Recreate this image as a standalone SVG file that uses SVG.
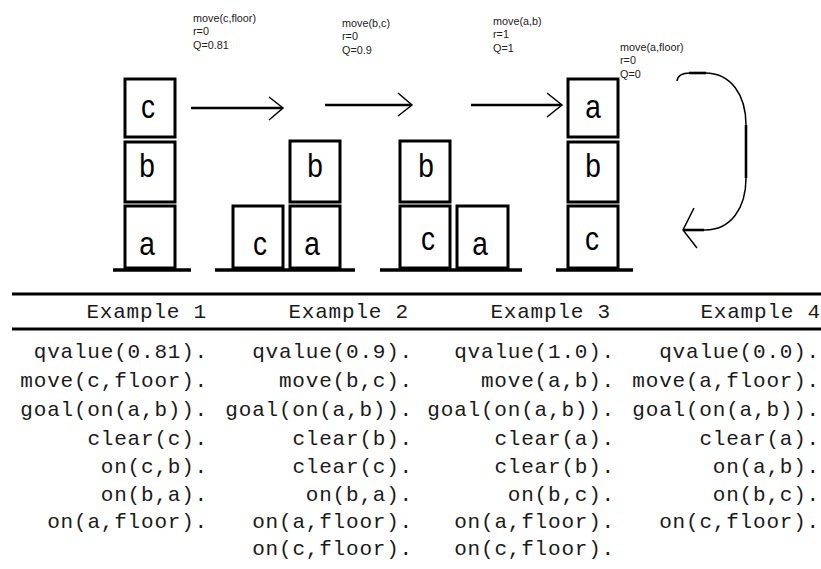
<svg xmlns="http://www.w3.org/2000/svg" width="821" height="569" viewBox="0 0 821 569">
<style>
.box{fill:#fff;stroke:#000;stroke-width:3}
.floor{stroke:#000;stroke-width:3.5;fill:none}
.blk{font-family:"Liberation Sans",Arial,sans-serif;font-size:33px;fill:#000;text-anchor:middle}
.lbl{font-family:"Liberation Sans",Arial,sans-serif;font-size:11.5px;fill:#222}
.arr{stroke:#000;stroke-width:2.6;fill:none}
.head{stroke:#000;stroke-width:1.5;fill:none}
.tbl{font-family:"Liberation Mono","Courier New",monospace;font-size:21px;letter-spacing:0.8px;fill:#1a1a1a;text-anchor:end}
.rule{stroke:#000;stroke-width:3}
</style>
<rect width="821" height="569" fill="#fff"/>

<g id="state1">
  <rect class="box" x="125" y="79" width="50" height="58"/>
  <rect class="box" x="125" y="142" width="50" height="60"/>
  <rect class="box" x="125" y="206" width="50" height="62"/>
  <line class="floor" x1="113" y1="270" x2="191" y2="270"/>
  <text class="blk" transform="translate(148,118) scale(0.85,1)">c</text>
  <text class="blk" transform="translate(147,177) scale(0.85,1)">b</text>
  <text class="blk" transform="translate(147,255) scale(0.85,1)">a</text>
</g>

<g id="state2">
  <rect class="box" x="233" y="206" width="50" height="62"/>
  <rect class="box" x="290" y="141" width="50" height="61"/>
  <rect class="box" x="290" y="206" width="50" height="62"/>
  <line class="floor" x1="215" y1="270" x2="355" y2="270"/>
  <text class="blk" transform="translate(260,255) scale(0.85,1)">c</text>
  <text class="blk" transform="translate(315,177) scale(0.85,1)">b</text>
  <text class="blk" transform="translate(312,255) scale(0.85,1)">a</text>
</g>

<g id="state3">
  <rect class="box" x="400" y="141" width="50" height="61"/>
  <rect class="box" x="400" y="206" width="50" height="62"/>
  <rect class="box" x="457" y="206" width="51" height="62"/>
  <line class="floor" x1="380" y1="270" x2="522" y2="270"/>
  <text class="blk" transform="translate(426,177) scale(0.85,1)">b</text>
  <text class="blk" transform="translate(428,250) scale(0.85,1)">c</text>
  <text class="blk" transform="translate(480,255) scale(0.85,1)">a</text>
</g>

<g id="state4">
  <rect class="box" x="568" y="79" width="50" height="58"/>
  <rect class="box" x="568" y="142" width="50" height="60"/>
  <rect class="box" x="568" y="206" width="50" height="62"/>
  <line class="floor" x1="556" y1="270" x2="633" y2="270"/>
  <text class="blk" transform="translate(593,118) scale(0.85,1)">a</text>
  <text class="blk" transform="translate(593,177) scale(0.85,1)">b</text>
  <text class="blk" transform="translate(592,250) scale(0.85,1)">c</text>
</g>

<g id="connectors">
  <line class="arr" x1="191" y1="108" x2="282" y2="108"/>
  <polyline class="head" points="269,97 283,108 269,120"/>
  <line class="arr" x1="325" y1="105" x2="411" y2="105"/>
  <polyline class="head" points="398,93 412,105 398,116"/>
  <line class="arr" x1="471" y1="105" x2="561" y2="105"/>
  <polyline class="head" points="547,93 562,105 547,117"/>
  <path class="head" d="M677,81 Q678,73 690,73 L705,73 C731,73 746,95 746,125 L746,178 C746,208 731,230 705,230 L683,230"/>
  <line class="arr" x1="689" y1="73" x2="706" y2="73"/>
  <line class="arr" x1="746" y1="125" x2="746" y2="178"/>
  <line class="arr" x1="684" y1="230" x2="704" y2="230"/>
  <polyline class="head" points="694,208 683,230 697,248"/>
</g>

<g id="label1" class="lbl" transform="translate(193,22) scale(0.94,1)">
  <text x="0" y="0">move(c,floor)</text>
  <text x="0" y="13.4">r=0</text>
  <text x="0" y="26.8">Q=0.81</text>
</g>
<g id="label2" class="lbl" transform="translate(342,27) scale(0.94,1)">
  <text x="0" y="0">move(b,c)</text>
  <text x="0" y="13.4">r=0</text>
  <text x="0" y="26.8">Q=0.9</text>
</g>
<g id="label3" class="lbl" transform="translate(493,25) scale(0.94,1)">
  <text x="0" y="0">move(a,b)</text>
  <text x="0" y="13.4">r=1</text>
  <text x="0" y="26.8">Q=1</text>
</g>
<g id="label4" class="lbl" transform="translate(620,51) scale(0.94,1)">
  <text x="0" y="0">move(a,floor)</text>
  <text x="0" y="13.4">r=0</text>
  <text x="0" y="26.8">Q=0</text>
</g>

<g id="table">
  <line class="rule" x1="12" y1="294" x2="821" y2="294"/>
  <line class="rule" x1="12" y1="329" x2="821" y2="329"/>
  <g class="tbl">
    <text x="207" y="318">Example 1</text>
    <text x="208" y="358">qvalue(0.81).</text>
    <text x="208" y="387">move(c,floor).</text>
    <text x="208" y="416">goal(on(a,b)).</text>
    <text x="208" y="445">clear(c).</text>
    <text x="208" y="473">on(c,b).</text>
    <text x="208" y="501">on(b,a).</text>
    <text x="208" y="528">on(a,floor).</text>

    <text x="409" y="318">Example 2</text>
    <text x="413" y="358">qvalue(0.9).</text>
    <text x="413" y="387">move(b,c).</text>
    <text x="413" y="416">goal(on(a,b)).</text>
    <text x="413" y="445">clear(b).</text>
    <text x="413" y="473">clear(c).</text>
    <text x="413" y="501">on(b,a).</text>
    <text x="413" y="528">on(a,floor).</text>
    <text x="413" y="555">on(c,floor).</text>

    <text x="611" y="318">Example 3</text>
    <text x="615" y="358">qvalue(1.0).</text>
    <text x="615" y="387">move(a,b).</text>
    <text x="615" y="416">goal(on(a,b)).</text>
    <text x="615" y="445">clear(a).</text>
    <text x="615" y="473">clear(b).</text>
    <text x="615" y="501">on(b,c).</text>
    <text x="615" y="528">on(a,floor).</text>
    <text x="615" y="555">on(c,floor).</text>

    <text x="821" y="318">Example 4</text>
    <text x="820" y="358">qvalue(0.0).</text>
    <text x="820" y="387">move(a,floor).</text>
    <text x="820" y="416">goal(on(a,b)).</text>
    <text x="820" y="445">clear(a).</text>
    <text x="820" y="473">on(a,b).</text>
    <text x="820" y="501">on(b,c).</text>
    <text x="820" y="528">on(c,floor).</text>
  </g>
</g>
</svg>
